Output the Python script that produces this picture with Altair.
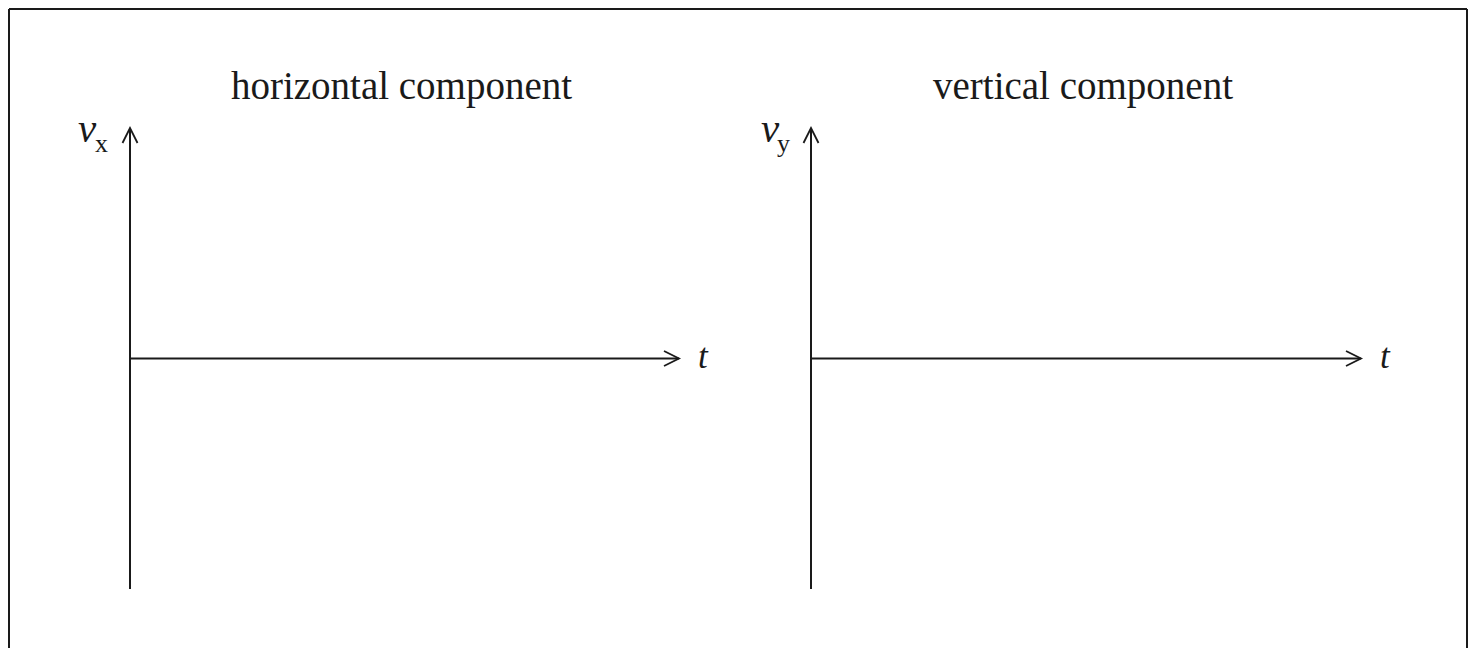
import altair as alt
import pandas as pd

# ---- content -------------------------------------------------------------
PANEL_TITLES = ["horizontal component", "vertical component"]
VELOCITY_SYMBOL = ["v", "v"]
VELOCITY_SUBSCRIPT = ["x", "y"]
TIME_SYMBOL = "t"
T_EXTENT = [0.0, 1.0]      # time axis runs from origin to arrow tip
V_EXTENT = [-1.0, 1.0]     # velocity axis runs below and above zero

# ---- layout / style ------------------------------------------------------
PANEL_WIDTHS = [549, 550]
PANEL_HEIGHT = 461
INK = "#1a1a1a"
SERIF = "Liberation Serif"


def panel(i):
    xs = alt.Scale(domain=T_EXTENT, nice=False, zero=False)
    ys = alt.Scale(domain=V_EXTENT, nice=False, zero=False)

    def X(f):
        return alt.X(f, type="quantitative", scale=xs, axis=None)

    def Y(f):
        return alt.Y(f, type="quantitative", scale=ys, axis=None)

    t_axis = pd.DataFrame({"t0": [T_EXTENT[0]], "t1": [T_EXTENT[1]], "v": [0.0],
                           "label": [TIME_SYMBOL]})
    v_axis = pd.DataFrame({"t": [T_EXTENT[0]], "v0": [V_EXTENT[0]], "v1": [V_EXTENT[1]],
                           "sym": [VELOCITY_SYMBOL[i]], "sub": [VELOCITY_SUBSCRIPT[i]]})
    title_df = pd.DataFrame({"t": [sum(T_EXTENT) / 2], "v": [V_EXTENT[1]],
                             "title": [PANEL_TITLES[i]]})

    h_rule = alt.Chart(t_axis).mark_rule(color=INK, strokeWidth=2).encode(
        x=X("t0"), x2="t1", y=Y("v"))
    h_head = alt.Chart(t_axis).mark_point(
        shape="M -2 -1 L 0 0 L -2 1", size=225, filled=False, color=INK,
        strokeWidth=1.8, opacity=1).encode(x=X("t1"), y=Y("v"))
    t_lab = alt.Chart(t_axis).mark_text(
        font=SERIF, fontStyle="italic", fontSize=35, color=INK, align="left",
        baseline="alphabetic", dx=19, dy=9).encode(x=X("t1"), y=Y("v"), text="label:N")

    v_rule = alt.Chart(v_axis).mark_rule(color=INK, strokeWidth=2).encode(
        x=X("t"), y=Y("v0"), y2="v1")
    v_head = alt.Chart(v_axis).mark_point(
        shape="M -1 2 L 0 0 L 1 2", size=225, filled=False, color=INK,
        strokeWidth=1.8, opacity=1).encode(x=X("t"), y=Y("v1"))
    v_sym = alt.Chart(v_axis).mark_text(
        font=SERIF, fontStyle="italic", fontSize=41, color=INK, align="left",
        baseline="alphabetic", dx=-52 + 2 * i, dy=14).encode(x=X("t"), y=Y("v1"), text="sym:N")
    v_sub = alt.Chart(v_axis).mark_text(
        font=SERIF, fontSize=26, color=INK, align="left",
        baseline="alphabetic", dx=-35 + i, dy=24).encode(x=X("t"), y=Y("v1"), text="sub:N")

    title = alt.Chart(title_df).mark_text(
        font=SERIF, fontSize=39, color=INK, align="center",
        baseline="alphabetic", dx=-3, dy=-29).encode(x=X("t"), y=Y("v"), text="title:N")

    layers = [h_rule, h_head, t_lab, v_rule, v_head, v_sym, v_sub, title]

    one = pd.DataFrame({"k": [0]})
    if i == 0:
        layers.append(alt.Chart(one).mark_rule(color=INK, strokeWidth=2).encode(
            x=alt.value(-121), y=alt.value(-119), y2=alt.value(521)))
        layers.append(alt.Chart(one).mark_rule(color=INK, strokeWidth=2).encode(
            x=alt.value(-121), x2=alt.value(1337), y=alt.value(-119)))
    else:
        layers.append(alt.Chart(one).mark_rule(color=INK, strokeWidth=2).encode(
            x=alt.value(656), y=alt.value(-119), y2=alt.value(521)))

    return alt.layer(*layers).properties(width=PANEL_WIDTHS[i], height=PANEL_HEIGHT)


chart = alt.hconcat(panel(0), panel(1), spacing=132, bounds="flush").properties(
    padding=0
).configure_view(stroke=None)

chart.save("out.html", embed_options={"renderer": "svg", "actions": False})
